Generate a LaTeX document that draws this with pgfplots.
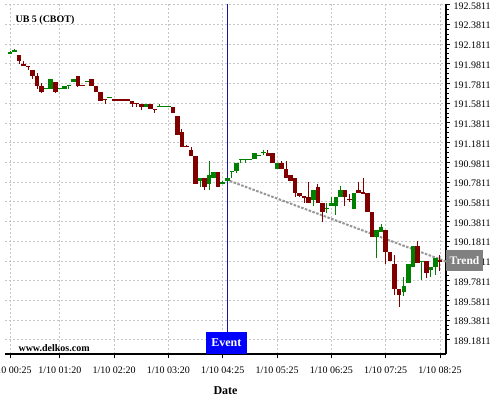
\documentclass[border=0pt]{standalone}
\usepackage{fontspec}
\setmainfont{Liberation Serif}
\usepackage{pgfplots}
\pgfplotsset{compat=1.18}
\usepackage{pgfplotstable}

\definecolor{upgreen}{RGB}{0,128,0}
\definecolor{downred}{RGB}{128,0,0}
\definecolor{evblue}{RGB}{0,0,255}
\definecolor{evline}{RGB}{20,20,170}
\definecolor{trendgray}{RGB}{128,128,128}
\definecolor{trendline}{RGB}{150,150,150}

% 5-minute bars, UB 5 (CBOT): bar index, open, high, low, close
\pgfplotstableread{
i o h l c
0 192.0760 192.1050 192.0760 192.1024
1 192.1145 192.1328 192.1044 192.1145
8 191.7312 191.7312 191.7312 191.7312
9 191.7271 191.8255 191.7230 191.8255
11 191.7312 191.7312 191.7312 191.7312
12 191.7271 191.7545 191.7271 191.7545
13 191.7616 191.7616 191.7210 191.7616
14 191.7951 191.8255 191.7951 191.8255
17 191.8022 191.8022 191.8022 191.8022
22 191.6399 191.6399 191.6399 191.6399
30 191.5445 191.5719 191.5445 191.5719
33 191.5516 191.5689 191.5385 191.5516
34 191.5516 191.5516 191.5516 191.5516
35 191.5516 191.5516 191.5516 191.5516
42 190.7940 190.8214 190.7332 190.8214
44 190.7606 190.9969 190.6997 190.8488
45 190.8214 190.8823 190.8214 190.8823
47 190.7738 190.7910 190.7575 190.7738
48 190.7940 190.8214 190.7940 190.8214
49 190.8873 190.8975 190.8214 190.8975
50 190.8894 190.9766 190.8691 190.9766
51 191.0111 191.0111 190.9705 191.0111
52 191.0111 191.0111 190.9705 191.0111
53 191.0141 191.0141 191.0141 191.0141
54 191.0111 191.0719 191.0111 191.0719
55 191.0547 191.0547 191.0547 191.0547
56 191.0821 191.1054 191.0547 191.0821
59 190.9157 190.9766 190.9157 190.9766
67 190.5983 190.6997 190.5374 190.6997
70 190.5141 190.5679 190.4695 190.5141
71 190.5374 190.6287 190.5374 190.5709
72 190.5374 190.6318 190.4462 190.6318
73 190.6318 190.7403 190.6318 190.6997
76 190.5101 190.6723 190.5101 190.6723
81 190.2261 190.2940 190.0070 190.2940
82 190.2768 190.3549 190.2768 190.3275
87 189.6652 189.8143 189.6247 189.7261
88 189.7596 189.9492 189.7596 189.9492
89 189.9218 190.1318 189.9218 190.1318
91 189.9766 189.9766 189.7869 189.9766
93 189.8884 189.9157 189.8143 189.9157
94 189.9218 190.0101 189.8346 190.0101
}\upbars

\pgfplotstableread{
i o h l c
2 192.0689 192.0689 191.9776 192.0111
3 191.9776 192.0050 191.9543 191.9543
4 191.9543 191.9543 191.9137 191.9543
5 191.9168 191.9168 191.8255 191.8559
6 191.8559 191.8833 191.7271 191.7575
7 191.7545 191.7880 191.6865 191.6936
10 191.7951 191.7951 191.6865 191.6967
15 191.8559 191.8559 191.7474 191.7575
16 191.7616 191.7616 191.7616 191.7616
18 191.8255 191.8255 191.7575 191.7575
19 191.7545 191.7545 191.6936 191.6936
20 191.6936 191.6936 191.6054 191.6054
21 191.6196 191.6257 191.5719 191.6196
23 191.6155 191.6257 191.6024 191.6155
24 191.6155 191.6257 191.6024 191.6155
25 191.6155 191.6155 191.6155 191.6155
26 191.6155 191.6155 191.6155 191.6155
27 191.6054 191.6054 191.5385 191.5750
28 191.5790 191.5790 191.5385 191.5790
29 191.5719 191.5719 191.5111 191.5445
31 191.5719 191.5719 191.5182 191.5182
32 191.5243 191.5243 191.4776 191.5111
36 191.5445 191.5445 191.4837 191.4837
37 191.4502 191.4502 191.2606 191.2606
38 191.2880 191.3214 191.1389 191.1389
39 191.1460 191.1592 191.1328 191.1460
40 191.1054 191.1328 191.0445 191.0445
41 191.0445 191.0445 190.7606 190.7606
43 190.8214 190.8214 190.6997 190.7332
46 190.8823 190.8823 190.7332 190.7332
57 191.0780 191.1054 191.0476 191.0476
58 191.0719 191.0719 190.9766 190.9766
60 190.9766 190.9969 190.9157 190.9157
61 190.9157 190.9969 190.8285 190.8285
62 190.8549 190.8549 190.7940 190.7940
63 190.8214 190.8214 190.6318 190.6723
64 190.6723 190.6723 190.6257 190.6389
65 190.6318 190.6318 190.5648 190.6318
66 190.6318 190.7839 190.5709 190.5709
68 190.7332 190.7606 190.5709 190.5709
69 190.5709 190.5709 190.3782 190.4796
74 190.6997 190.6997 190.5374 190.6318
75 190.6054 190.6592 190.5811 190.6054
77 190.6997 190.7839 190.6723 190.6723
78 190.6723 190.8184 190.6723 190.6723
79 190.6723 190.6723 190.4796 190.4796
80 190.4796 190.4796 190.2261 190.2261
83 190.2940 190.2940 189.9492 190.0709
84 190.0709 190.0709 189.9827 189.9827
85 189.9492 190.0374 189.6318 189.6987
86 189.6987 189.6987 189.5101 189.6379
90 190.1318 190.1855 189.9563 189.9563
92 189.9827 189.9827 189.8042 189.8549
95 189.9827 190.0374 189.8812 189.9827
}\downbars

% wick: high-low range; body: open-close range drawn as a wide bar
\pgfplotsset{
  wick/.style={draw=none, mark=none, forget plot,
    error bars/.cd, y dir=both, y explicit, error mark=none,
    error bar style={draw=#1, line width=1pt}},
  body/.style={draw=none, mark=none, forget plot,
    error bars/.cd, y dir=both, y explicit, error mark=none,
    error bar style={draw=#1, line width=4.5pt}},
}

\begin{document}
\begin{tikzpicture}[font=\fontsize{10}{12}\selectfont]
\begin{axis}[
  scale only axis, width=441pt, height=350pt,
  xmin=-1.105, xmax=96.33, ymin=189.0364, ymax=192.5861,
  axis x line*=bottom, axis y line*=right,
  axis line style={line width=1.2pt},
  xtick={0,11,23,35,47,59,71,83,95},
  xticklabels={1/10 00:25,1/10 01:20,1/10 02:20,1/10 03:20,1/10 04:25,1/10 05:25,1/10 06:25,1/10 07:25,1/10 08:25},
  xticklabel style={yshift=-5pt},
  ytick={189.1811,189.3811,189.5811,189.7811,189.9811,190.1811,190.3811,190.5811,190.7811,190.9811,191.1811,191.3811,191.5811,191.7811,191.9811,192.1811,192.3811,192.5811},
  yticklabels={189.1811,189.3811,189.5811,189.7811,189.9811,190.1811,190.3811,190.5811,190.7811,190.9811,191.1811,191.3811,191.5811,191.7811,191.9811,192.1811,192.3811,192.5811},
  yticklabel style={yshift=-1.5pt},
  minor x tick num=1, minor y tick num=3,
  tick align=outside,
  major tick length=4pt, minor tick length=2.5pt,
  tick style={black, line width=0.8pt},
  grid=major,
  grid style={gray!45, dash pattern=on 2pt off 2pt, line width=0.6pt},
  xlabel={Date},
  xlabel style={font=\fontsize{12}{14}\selectfont\bfseries, yshift=-6pt},
  clip=false,
]
\coordinate (SW) at (rel axis cs:0,0);

% trend line
\addplot[trendline, line width=2pt, dash pattern=on 2.5pt off 1.5pt, forget plot]
  coordinates {(48.6,190.7910) (96.33,189.9746)};

% event marker
\addplot[evline, line width=1pt, forget plot]
  coordinates {(48,192.5861) (48,189.0364)};

\addplot[wick=upgreen] table[x=i, y expr={(\thisrow{h}+\thisrow{l})/2}, y error expr={(\thisrow{h}-\thisrow{l})/2}] {\upbars};
\addplot[wick=downred] table[x=i, y expr={(\thisrow{h}+\thisrow{l})/2}, y error expr={(\thisrow{h}-\thisrow{l})/2}] {\downbars};
\addplot[body=upgreen] table[x=i, y expr={(\thisrow{o}+\thisrow{c})/2}, y error expr={max(abs(\thisrow{o}-\thisrow{c})/2,0.005)}] {\upbars};
\addplot[body=downred] table[x=i, y expr={(\thisrow{o}+\thisrow{c})/2}, y error expr={max(abs(\thisrow{o}-\thisrow{c})/2,0.005)}] {\downbars};
\end{axis}

\node[anchor=west, font=\fontsize{10}{12}\selectfont\bfseries] at ([shift={(7pt,334pt)}]SW) {UB 5 (CBOT)};
\node[anchor=west, font=\fontsize{10}{12}\selectfont\bfseries] at ([shift={(10pt,6pt)}]SW) {www.delkos.com};
\node[fill=evblue, text=white, font=\fontsize{12}{14}\selectfont\bfseries,
  minimum width=40.7pt, minimum height=22pt, inner sep=0pt] at ([shift={(221.3pt,11pt)}]SW) {Event};
\node[fill=trendgray, text=white, font=\fontsize{11.5}{13}\selectfont\bfseries,
  minimum width=37pt, minimum height=21.3pt, inner sep=0pt] at ([shift={(459.5pt,93.3pt)}]SW) {Trend};

\pgfresetboundingbox
\path[use as bounding box] ([shift={(-5pt,-46pt)}]SW) rectangle ([shift={(495pt,354pt)}]SW);
\end{tikzpicture}
\end{document}
